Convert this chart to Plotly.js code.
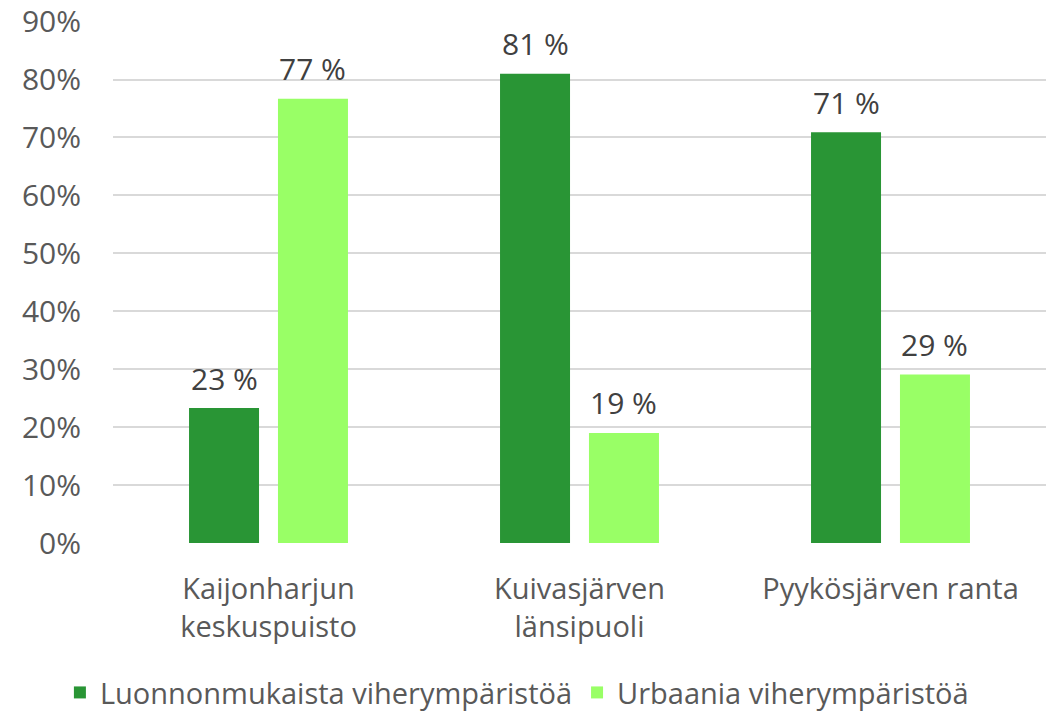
<!DOCTYPE html>
<html><head><meta charset="utf-8">
<script src="https://cdn.plot.ly/plotly-3.0.1.min.js"></script>
<style>html,body{margin:0;padding:0;background:#fff}#c{width:1051px;height:714px}</style>
</head><body><div id="c"></div>
<script>
var categories = ["Kaijonharjun<br>keskuspuisto", "Kuivasjärven<br>länsipuoli", "Pyykösjärven ranta"];
var natural = [23.3, 81.0, 70.9];
var urban = [76.7, 19.0, 29.1];
var seriesNames = ["Luonnonmukaista viherympäristöä", "Urbaania viherympäristöä"];
var yTicks = [0,10,20,30,40,50,60,70,80,90];

var font = "Open Sans, Noto Sans, sans-serif";
var colors = ["#299535", "#99FF66"];
var traces = [
 {type:"bar", x:categories, y:natural, name:seriesNames[0], marker:{color:colors[0]}},
 {type:"bar", x:categories, y:urban, name:seriesNames[1], marker:{color:colors[1]}}
];
var bargap = 0.428, mL = 113, mR = 5, plotW = 1051-mL-mR;
var off = plotW/categories.length*(1-bargap)/4;
var ann = [];
[natural, urban].forEach(function(s, si){
  s.forEach(function(v, i){
    ann.push({x:categories[i], y:v, xref:"x", yref:"y", text:Math.round(v)+" %", showarrow:false,
      xshift:(si===0?-off:off), yshift:30, font:{size:30,color:"#404040",family:font}});
  });
});
var layout = {
 width:1051, height:714, margin:{l:mL,r:mR,t:21,b:171},
 paper_bgcolor:"#fff", plot_bgcolor:"#fff",
 barmode:"group", bargap:bargap, bargroupgap:0.213,
 font:{family:font, color:"#595959"},
 annotations:ann,
 xaxis:{tickfont:{size:29,color:"#595959"}, showline:false, ticks:"", automargin:false, ticklabelstandoff:26},
 yaxis:{range:[0,90.1], tickvals:yTicks, ticktext:yTicks.map(function(t){return t+"%";}),
  tickfont:{size:30,color:"#595959"}, gridcolor:"#d9d9d9", gridwidth:2, zeroline:false, showline:false, ticks:"", automargin:false, ticklabelstandoff:31},
 legend:{orientation:"h", x:0.057, xanchor:"left", xref:"container", yref:"container", y:0.03, yanchor:"middle", font:{size:29,color:"#595959"}},
 showlegend:true
};
Plotly.newPlot("c", traces, layout, {displayModeBar:false, staticPlot:true});
</script></body></html>
